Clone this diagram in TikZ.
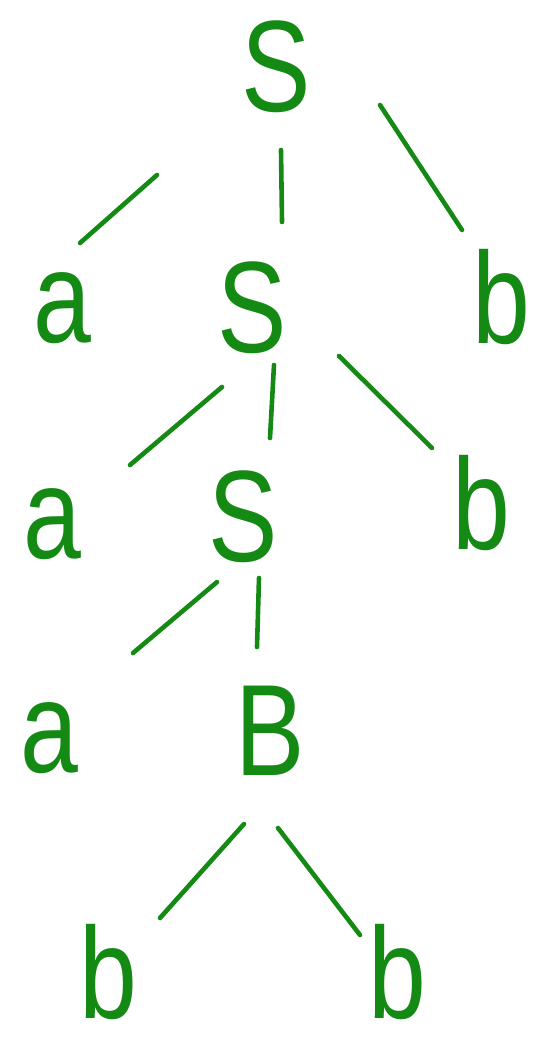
\documentclass[tikz,border=0pt]{standalone}
\usepackage{fontspec}
\setmainfont{Liberation Sans}
\usetikzlibrary{calc}
\definecolor{ink}{HTML}{148A14}
\newcommand{\sym}[1]{\scalebox{0.8}[1]{#1}}
\tikzset{
  sym/.style={text=ink, font=\fontsize{130}{130}\selectfont, inner sep=0pt},
  %
  edge/.style={draw=ink, line width=4.6pt, line cap=round},
}
\begin{document}
\begin{tikzpicture}[x=1pt, y=-1pt]
  \useasboundingbox (0,0) rectangle (538,1047);

  % symbols of the tree
  \node[sym] (s0) at (276,67)  {\sym{S}};
  \node[sym] (a1) at (62,308)  {\sym{a}};
  \node[sym] (s1) at (252,308) {\sym{S}};
  \node[sym] (b1) at (501,297) {\sym{b}};
  \node[sym] (a2) at (52,524)  {\sym{a}};
  \node[sym] (s2) at (243,517) {\sym{S}};
  \node[sym] (b2) at (481,503) {\sym{b}};
  \node[sym] (a3) at (49,738)  {\sym{a}};
  \node[sym] (bb) at (270,731) {\sym{B}};
  \node[sym] (b4) at (108,972) {\sym{b}};
  \node[sym] (b5) at (397,972) {\sym{b}};

  % branches
  \draw[edge] ($(s0)+(-119,108)$) -- ($(a1)+(18,-65)$);
  \draw[edge] ($(s0)+(5,83)$)     -- ($(s1)+(30,-86)$);
  \draw[edge] ($(s0)+(104,38)$)   -- ($(b1)+(-39,-67)$);
  \draw[edge] ($(s1)+(-30,79)$)   -- ($(a2)+(78,-59)$);
  \draw[edge] ($(s1)+(22,57)$)    -- ($(s2)+(27,-79)$);
  \draw[edge] ($(s1)+(87,48)$)    -- ($(b2)+(-49,-55)$);
  \draw[edge] ($(s2)+(-26,65)$)   -- ($(a3)+(84,-85)$);
  \draw[edge] ($(s2)+(16,61)$)    -- ($(bb)+(-13,-84)$);
  \draw[edge] ($(bb)+(-26,93)$)   -- ($(b4)+(52,-54)$);
  \draw[edge] ($(bb)+(8,97)$)     -- ($(b5)+(-37,-37)$);

\end{tikzpicture}
\end{document}
